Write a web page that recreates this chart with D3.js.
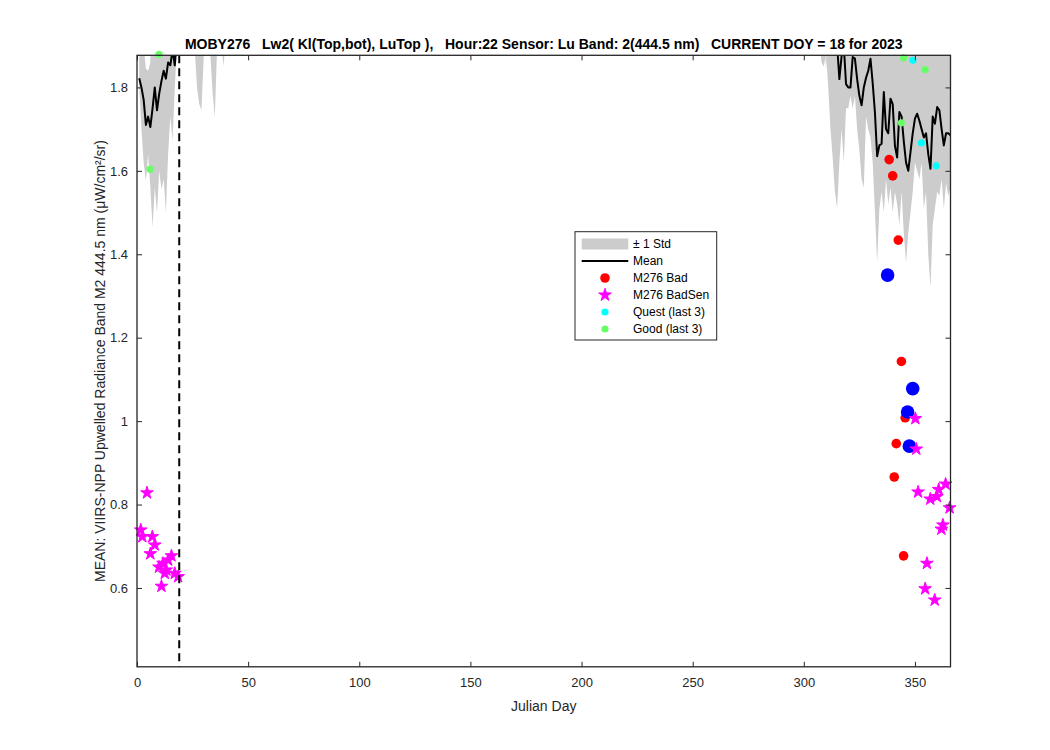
<!DOCTYPE html>
<html><head><meta charset="utf-8">
<script src="https://cdn.jsdelivr.net/npm/d3@7"></script>
<style>
body{margin:0;background:#fff;}
svg{font-family:"Liberation Sans",Arial,Helvetica,sans-serif;}
</style>
</head><body>
<svg id="c" width="1050" height="750"></svg>
<script>
// ---------------- DATA ----------------
const titleText = "MOBY276   Lw2( Kl(Top,bot), LuTop ),   Hour:22 Sensor: Lu Band: 2(444.5 nm)   CURRENT DOY = 18 for 2023";
const xLabelText = "Julian Day";
const yLabelText = "MEAN: VIIRS-NPP Upwelled Radiance Band M2 444.5 nm (\u03bcW/cm\u00b2/sr)";
const xTicks = [0, 50, 100, 150, 200, 250, 300, 350];
const yTicks = [0.6, 0.8, 1, 1.2, 1.4, 1.6, 1.8];
const xDomain = [0, 366];
const yDomain = [0.411, 1.877];
const currentLineDay = 19;

// +/- 1 std envelope, left segment (starting day 1) and right segment (starting day 305)
const bandStartLeft = 1;
const bandLoLeft = [1.80,1.70,1.62,1.575,1.64,1.56,1.465,1.56,1.50,1.60,
                    1.555,1.58,1.50,1.64,1.73,1.672,1.80,1.90,1.95,1.95,
                    1.93,1.90,1.95,1.98,1.96,1.89,1.80,1.76,1.745,1.87,
                    1.95,1.92,1.88,1.79,1.728,1.89,1.95,1.90,1.85,1.94,
                    1.96,1.95,1.90,1.95,1.97];
const bandHiLeft = [1.90,1.92,1.90,1.845,1.84,1.86,2.05,2.03,2.00,2.02,
                    2.06,2.08,2.10,2.09,1.97,2.12,1.92,2.05,2.10,2.12,
                    2.15,2.20,2.18,2.22,2.20,2.16,2.14,2.15,2.15,2.13,
                    2.15,2.12,2.10,2.10,2.15,2.12,2.15,2.10,2.10,2.14,
                    2.16,2.15,2.20,2.17,2.19];
const bandStartRight = 305;
const bandLoRight = [1.95,1.95,1.90,1.86,1.85,1.88,1.80,1.70,1.63,1.55,
                     1.51,1.62,1.70,1.62,1.75,1.75,1.78,1.75,1.78,1.70,
                     1.65,1.58,1.56,1.73,1.70,1.68,1.62,1.50,1.38,1.51,
                     1.55,1.50,1.58,1.52,1.56,1.50,1.55,1.52,1.47,1.55,
                     1.45,1.38,1.45,1.50,1.55,1.62,1.60,1.58,1.62,1.51,
                     1.55,1.40,1.32,1.47,1.51,1.55,1.54,1.58,1.51,1.57,
                     1.54,1.56];
const bandHiRight = [2.00,2.05,2.05,2.02,1.98,1.84,2.00,2.10,2.12,2.20,
                     2.25,2.05,2.05,2.10,2.00,1.95,1.96,2.00,1.98,1.97,
                     1.95,1.96,2.00,1.95,2.00,2.02,2.00,1.98,1.90,1.92,
                     1.95,2.05,1.95,1.90,1.99,2.02,1.95,1.90,2.01,1.95,
                     1.95,1.90,1.93,1.95,1.95,1.90,1.92,1.95,1.93,1.90,
                     1.95,1.92,1.95,1.98,1.94,1.96,1.95,1.90,1.90,1.92,
                     1.90,1.91];

// Mean line, left segment (starting day 1) and right segment (starting day 315)
const meanStartLeft = 1;
const meanLeft = [1.822,1.80,1.77,1.71,1.73,1.705,1.75,1.80,1.745,1.785,
                  1.815,1.84,1.821,1.86,1.853,1.89,1.853,1.92,2.00];
const meanStartRight = 315;
const meanRight = [1.90,1.82,1.875,1.90,1.808,1.80,1.80,1.873,1.869,1.82,
                   1.78,1.757,1.80,1.823,1.84,1.869,1.81,1.74,1.635,1.661,
                   1.665,1.789,1.70,1.69,1.773,1.76,1.66,1.632,1.741,1.73,
                   1.67,1.62,1.60,1.645,1.69,1.725,1.737,1.72,1.70,1.68,
                   1.69,1.64,1.605,1.73,1.713,1.753,1.745,1.70,1.661,1.69,
                   1.69,1.685];

// M276 Bad (red)
const badDays = [338.4, 340.0, 342.5, 343.9, 345.6, 341.6, 340.7, 344.9];
const badVals = [1.627, 1.588, 1.434, 1.143, 1.008, 0.946, 0.866, 0.677];
// Blue (large) points
const blueDays = [337.7, 349.0, 346.7, 347.5];
const blueVals = [1.350, 1.078, 1.022, 0.940];
// M276 BadSen (magenta stars)
const badSenDays = [4.5, 1.7, 2.4, 6.9, 8.0, 6.0, 15.5, 14.0, 11.7, 9.9, 13.2, 12.5, 17.0, 18.5, 11.0,
                    350.2, 350.6, 351.4, 356.9, 359.9, 360.7, 363.8, 365.6, 362.6, 361.9, 355.4, 354.6, 358.9];
const badSenVals = [0.828, 0.739, 0.723, 0.723, 0.703, 0.682, 0.677, 0.667, 0.659, 0.650, 0.643, 0.635, 0.635, 0.627, 0.604,
                    1.006, 0.933, 0.830, 0.813, 0.819, 0.836, 0.849, 0.792, 0.751, 0.741, 0.659, 0.598, 0.571];
// Quest (last 3) cyan
const questDays = [349.1, 352.9, 359.6];
const questVals = [1.865, 1.667, 1.612];
// Good (last 3) green
const goodDays = [9.9, 5.9, 344.9, 354.6, 343.9];
const goodVals = [1.879, 1.604, 1.871, 1.843, 1.715];

const legendLabels = ["\u00b1 1 Std", "Mean", "M276 Bad", "M276 BadSen", "Quest (last 3)", "Good (last 3)"];

// ---------------- DRAW ----------------
const svg = d3.select("#c");
const P = {left: 137, right: 950.5, top: 55.3, bottom: 666.8};
const x = d3.scaleLinear().domain(xDomain).range([P.left, P.right]);
const y = d3.scaleLinear().domain(yDomain).range([P.bottom, P.top]);
const axisColor = "#262626";

svg.append("rect").attr("width",1050).attr("height",750).attr("fill","#fff");

svg.append("defs").append("clipPath").attr("id","plotclip")
  .append("rect").attr("x",P.left).attr("y",P.top)
  .attr("width",P.right-P.left).attr("height",P.bottom-P.top);

const plot = svg.append("g").attr("clip-path","url(#plotclip)");

function bandSeg(start, lo, hi){ return lo.map((v,i)=>({day:start+i, lo:v, hi:hi[i]})); }
function lineSeg(start, vals){ return vals.map((v,i)=>({day:start+i, v:v})); }

const area = d3.area().x(d=>x(d.day)).y0(d=>y(d.lo)).y1(d=>y(d.hi));
[bandSeg(bandStartLeft,bandLoLeft,bandHiLeft), bandSeg(bandStartRight,bandLoRight,bandHiRight)].forEach(seg=>{
  plot.append("path").datum(seg).attr("d",area).attr("fill","#cccccc").attr("stroke","none");
});
const line = d3.line().x(d=>x(d.day)).y(d=>y(d.v));
[lineSeg(meanStartLeft,meanLeft), lineSeg(meanStartRight,meanRight)].forEach(seg=>{
  plot.append("path").datum(seg).attr("d",line).attr("fill","none")
    .attr("stroke","#000").attr("stroke-width",2).attr("stroke-linejoin","round");
});

// markers
const marks = svg.append("g");
function zip(a,b){ return a.map((d,i)=>[d,b[i]]); }
marks.selectAll("circle.bad").data(zip(badDays,badVals)).enter().append("circle")
  .attr("cx",d=>x(d[0])).attr("cy",d=>y(d[1])).attr("r",4.8).attr("fill","#ff0000");
marks.selectAll("circle.blue").data(zip(blueDays,blueVals)).enter().append("circle")
  .attr("cx",d=>x(d[0])).attr("cy",d=>y(d[1])).attr("r",6.8).attr("fill","#0000ff");
const star = d3.symbol().type(d3.symbolStar).size(50);
marks.selectAll("path.star").data(zip(badSenDays,badSenVals)).enter().append("path")
  .attr("d",star).attr("transform",d=>`translate(${x(d[0])},${y(d[1])})`)
  .attr("fill","#ff00ff").attr("stroke","#ff00ff").attr("stroke-width",1).attr("stroke-linejoin","round");
marks.selectAll("circle.q").data(zip(questDays,questVals)).enter().append("circle")
  .attr("cx",d=>x(d[0])).attr("cy",d=>y(d[1])).attr("r",3.6).attr("fill","#00ffff");
marks.selectAll("circle.g").data(zip(goodDays,goodVals)).enter().append("circle")
  .attr("cx",d=>x(d[0])).attr("cy",d=>y(d[1])).attr("r",3.6).attr("fill","#66ff66");

// current day dashed line
svg.append("line").attr("x1",x(currentLineDay)).attr("x2",x(currentLineDay))
  .attr("y1",P.top).attr("y2",P.bottom).attr("stroke","#000").attr("stroke-width",2)
  .attr("stroke-dasharray","8,5");

// axes
function styleAxis(g, keepLabels){
  g.select(".domain").remove();
  g.selectAll(".tick line").attr("stroke",axisColor).attr("stroke-width",1);
  g.selectAll(".tick text").attr("fill",axisColor).style("font-size","13px")
   .style("font-family","'Liberation Sans',Arial,sans-serif");
  if(!keepLabels) g.selectAll(".tick text").remove();
}
svg.append("g").attr("transform",`translate(0,${P.bottom})`)
  .call(d3.axisBottom(x).tickValues(xTicks).tickSizeInner(-5).tickSizeOuter(0).tickPadding(11).tickFormat(d=>String(d)))
  .call(g=>styleAxis(g,true));
svg.append("g").attr("transform",`translate(0,${P.top})`)
  .call(d3.axisTop(x).tickValues(xTicks).tickSizeInner(-5).tickSizeOuter(0))
  .call(g=>styleAxis(g,false));
svg.append("g").attr("transform",`translate(${P.left},0)`)
  .call(d3.axisLeft(y).tickValues(yTicks).tickSizeInner(-5).tickSizeOuter(0).tickPadding(9).tickFormat(d=>String(d)))
  .call(g=>styleAxis(g,true));
svg.append("g").attr("transform",`translate(${P.right},0)`)
  .call(d3.axisRight(y).tickValues(yTicks).tickSizeInner(-5).tickSizeOuter(0))
  .call(g=>styleAxis(g,false));

svg.append("rect").attr("x",P.left).attr("y",P.top).attr("width",P.right-P.left)
  .attr("height",P.bottom-P.top).attr("fill","none").attr("stroke",axisColor).attr("stroke-width",1.3);

// labels
svg.append("text").attr("x",(P.left+P.right)/2).attr("y",49).attr("text-anchor","middle")
  .style("font-size","14px").style("font-weight","bold").style("white-space","pre")
  .attr("fill","#000").text(titleText);
svg.append("text").attr("x",(P.left+P.right)/2).attr("y",711).attr("text-anchor","middle")
  .style("font-size","14px").attr("fill",axisColor).text(xLabelText);
svg.append("text").attr("transform",`translate(105,${(P.top+P.bottom)/2}) rotate(-90)`)
  .attr("text-anchor","middle").style("font-size","14px").attr("fill",axisColor).text(yLabelText);

// legend
const L = {x:575, y:231.7, w:141.7, h:108.3};
const lg = svg.append("g");
lg.append("rect").attr("x",L.x).attr("y",L.y).attr("width",L.w).attr("height",L.h)
  .attr("fill","#fff").attr("stroke","#262626").attr("stroke-width",1);
const rowY = i => 244 + i*17;
const symX0 = 581.7, symX1 = 628.3, symXc = 605, txtX = 633;
lg.append("rect").attr("x",symX0).attr("y",rowY(0)-5.5).attr("width",symX1-symX0).attr("height",11).attr("fill","#cccccc");
lg.append("line").attr("x1",symX0).attr("x2",symX1).attr("y1",rowY(1)).attr("y2",rowY(1)).attr("stroke","#000").attr("stroke-width",2);
lg.append("circle").attr("cx",symXc).attr("cy",rowY(2)).attr("r",4.8).attr("fill","#ff0000");
lg.append("path").attr("d",star).attr("transform",`translate(${symXc},${rowY(3)})`).attr("fill","#ff00ff").attr("stroke","#ff00ff").attr("stroke-width",1);
lg.append("circle").attr("cx",symXc).attr("cy",rowY(4)).attr("r",3.6).attr("fill","#00ffff");
lg.append("circle").attr("cx",symXc).attr("cy",rowY(5)).attr("r",3.6).attr("fill","#66ff66");
legendLabels.forEach((t,i)=>{
  lg.append("text").attr("x",txtX).attr("y",rowY(i)).attr("dy","0.35em")
    .style("font-size","12px").attr("fill","#000").text(t);
});
</script>
</body></html>
